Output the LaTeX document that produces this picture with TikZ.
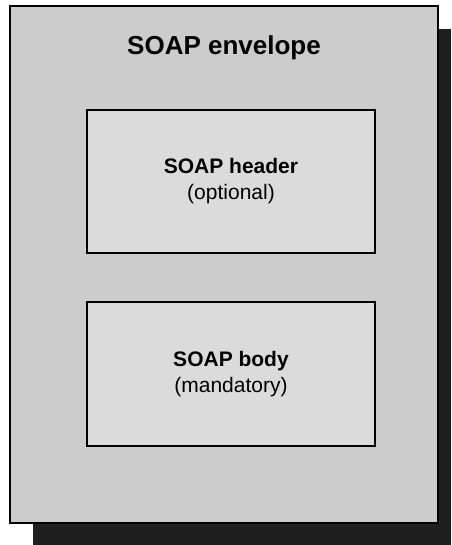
\documentclass[tikz,border=0pt]{standalone}
\usepackage{fontspec}
\setmainfont{Liberation Sans}
\begin{document}
\begin{tikzpicture}[x=1pt,y=-1pt,
  envelopefill/.style={fill=black!20},
  partbox/.style={draw=black,line width=1.3pt,fill=black!14,
    minimum width=288pt,inner sep=0pt,align=center,
    font=\fontsize{21}{26}\selectfont},
  shadowfill/.style={fill=black!88}]
  \useasboundingbox (0,0) rectangle (451,545);
  % drop shadow behind the envelope
  \fill[shadowfill] (33,29) rectangle (451,545);
  % envelope
  \draw[envelopefill,line width=1.8pt] (10,6) rectangle (438,523);
  \node[font=\fontsize{26}{30}\selectfont\bfseries] (title) at (224,48) {SOAP envelope};
  % header and body parts
  \node[partbox,minimum height=143pt] (header) at (231,181.5)
    {\textbf{SOAP header}\\(optional)};
  \node[partbox,minimum height=144pt] (body) at (231,374)
    {\textbf{SOAP body}\\(mandatory)};
\end{tikzpicture}
\end{document}
